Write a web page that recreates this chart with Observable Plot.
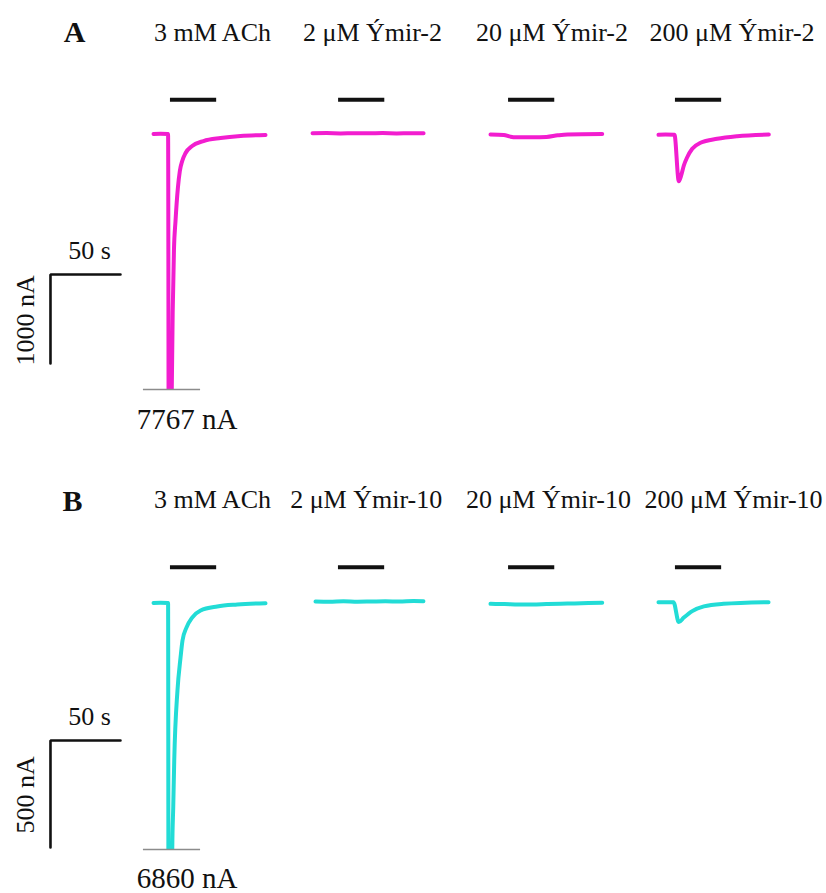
<!DOCTYPE html>
<html>
<head>
<meta charset="utf-8">
<script src="https://cdn.jsdelivr.net/npm/d3@7"></script>
<script src="https://cdn.jsdelivr.net/npm/@observablehq/plot@0.6"></script>
<style>
  html, body { margin: 0; padding: 0; background: #fff; }
  #chart { width: 826px; }
  #chart svg { display: block; }
</style>
</head>
<body>
<div id="chart"></div>
<script>
// ---------------- DATA ----------------
const conditionsA = ["3 mM ACh", "2 μM Ýmir-2", "20 μM Ýmir-2", "200 μM Ýmir-2"];
const conditionsB = ["3 mM ACh", "2 μM Ýmir-10", "20 μM Ýmir-10", "200 μM Ýmir-10"];
const peakLabelA = "7767 nA";
const peakLabelB = "6860 nA";

// Panel A traces: time since sweep start (s), current (nA)
const a1Time    = [0, 5, 10.4, 11.2, 12.0, 12.8, 13.7, 14.6, 15.7, 17.4, 18.8, 20.5, 22.9, 27.6, 35.7, 47.9, 62.1, 80];
const a1Current = [0, 2, 0, -7767, -5000, -3200, -2000, -1300, -978, -607, -416, -303, -213, -135, -79, -45, -22, -11];
const a2Time    = [0, 10, 20, 30, 40, 50, 60, 70, 79.3];
const a2Current = [8, 10, 7, 9, 8, 10, 7, 9, 8];
const a3Time    = [0, 9.5, 14.3, 17.9, 30, 40, 48, 55, 79.8];
const a3Current = [-5, -10, -30, -37, -37, -33, -15, -5, 0];
const a4Time    = [0, 5, 11.4, 14.5, 16.2, 18.1, 20.5, 24.1, 30, 41.9, 56.2, 78.8];
const a4Current = [-9, -7, -9, -530, -466, -354, -261, -166, -99, -54, -25, -6];

// Panel B traces
const b1Time    = [0, 5, 10.4, 11.2, 12.0, 12.8, 13.4, 14.1, 14.8, 17.1, 19.3, 20.7, 23.6, 27.6, 33.6, 45.5, 59.8, 80];
const b1Current = [0, 1, 0, -6860, -4500, -2500, -1150, -950, -736, -409, -255, -175, -114, -68, -35, -16, -7, -1];
const b2Time    = [0, 10, 20, 30, 40, 50, 60, 70, 77.1];
const b2Current = [7, 6, 8, 6, 7, 8, 7, 9, 8];
const b3Time    = [0, 10, 20, 30, 40, 50, 60, 70, 79.8];
const b3Current = [-4, -5, -7, -7, -5, -3, -2, 0, 1];
const b4Time    = [0, 5, 10.7, 14.5, 18.1, 24.1, 32.4, 46.4, 78.6];
const b4Current = [4, 3, 4, -89, -68, -38, -16, -4, 4];

// Drug application (s after sweep start) and duration (s)
const appStartA = [12.1, 18.6, 12.9, 12.1];
const appStartB = [12.1, 16.4, 12.9, 12.1];
const appDuration = 33;

// Scale bars
const scaleTime = 50;         // s
const scaleCurrentA = 1000;   // nA
const scaleCurrentB = 500;    // nA

// ---------------- LAYOUT ----------------
const W = 826;
const FONT = "'Liberation Serif', 'Times New Roman', serif";
const layoutA = {
  height: 446, marginBottom: 57,
  yDomain: [0, -1000], yRange: [133.5, 222.5],
  offsets: [109.3, 222.9, 350, 470],
  titleX: [151.4, 265.7, 393.9, 522.5], titleY: 1043,
  letter: "A", letterX: 52.9, letterY: 1031,
  barY: 384, clipY: -2871, clipX: [102.1, 142.9],
  peakX: 133.2, peakY: -3320,
  scaleX: 35.7, scaleY: -1579, scaleLabelX: 63.6, scaleLabelY: -1399,
  vLabelX: 23.6, vLabelY: -2095,
  color: "#f21dcf"
};
const layoutB = {
  height: 447, marginBottom: 44,
  yDomain: [0, -500], yRange: [156.5, 263.5],
  offsets: [109.3, 225, 350, 470],
  titleX: [151.4, 261.2, 391.4, 523.6], titleY: 442,
  letter: "B", letterX: 51.4, letterY: 432,
  barY: 167, clipY: -1152, clipX: [102.1, 142.9],
  peakX: 133.2, peakY: -1334,
  scaleX: 35.7, scaleY: -642.5, scaleLabelX: 63.6, scaleLabelY: -572,
  vLabelX: 23.6, vLabelY: -896,
  color: "#22dcd6"
};

function buildTraces(times, currents, offsets) {
  const rows = [];
  times.forEach((ts, i) => {
    ts.forEach((t, j) => rows.push({sweep: i, t: offsets[i] + t, v: currents[i][j]}));
  });
  return rows;
}

function panel(L, times, currents, titles, appStart, scaleCurrent, peakLabel) {
  const traces = buildTraces(times, currents, L.offsets);
  const bars = appStart.map((s, i) => ({x1: L.offsets[i] + s, x2: L.offsets[i] + s + appDuration, y: L.barY}));
  const titleRows = titles.map((t, i) => ({label: t, x: L.titleX[i], y: L.titleY}));
  const scaleBar = [
    {t: L.scaleX + scaleTime, v: L.scaleY},
    {t: L.scaleX, v: L.scaleY},
    {t: L.scaleX, v: L.scaleY - scaleCurrent}
  ];
  const txt = {fontFamily: FONT, fill: "#111", lineAnchor: "bottom"};
  return Plot.plot({
    width: W, height: L.height,
    marginLeft: 0, marginRight: 0, marginTop: 0, marginBottom: L.marginBottom,
    x: {domain: [0, 590], range: [0, W], axis: null},
    y: {domain: L.yDomain, range: L.yRange, axis: null},
    style: {background: "#fff"},
    marks: [
      Plot.line(traces, {x: "t", y: "v", z: "sweep", stroke: L.color, strokeWidth: 4,
        curve: "monotone-x", clip: true, strokeLinejoin: "round", strokeLinecap: "round"}),
      Plot.ruleY([{y: L.clipY, x1: L.clipX[0], x2: L.clipX[1]}], {y: "y", x1: "x1", x2: "x2", stroke: "#8c8c8c", strokeWidth: 1.5}),
      Plot.ruleY(bars, {y: "y", x1: "x1", x2: "x2", stroke: "#111", strokeWidth: 4}),
      Plot.line(scaleBar, {x: "t", y: "v", stroke: "#111", strokeWidth: 2.6, strokeLinejoin: "miter"}),
      Plot.text(titleRows, {x: "x", y: "y", text: "label", fontSize: 26, textAnchor: "middle", ...txt}),
      Plot.text([L.letter], {x: () => L.letterX, y: () => L.letterY, text: d => d, fontSize: 30, fontWeight: "bold", textAnchor: "middle", ...txt}),
      Plot.text([scaleTime + " s"], {x: () => L.scaleLabelX, y: () => L.scaleLabelY, text: d => d, fontSize: 26, textAnchor: "middle", ...txt}),
      Plot.text([scaleCurrent + " nA"], {x: () => L.vLabelX, y: () => L.vLabelY, text: d => d, fontSize: 26, rotate: -90, textAnchor: "middle", ...txt}),
      Plot.text([peakLabel], {x: () => L.peakX, y: () => L.peakY, text: d => d, fontSize: 29, textAnchor: "middle", ...txt})
    ]
  });
}

const chart = document.getElementById("chart");
chart.append(panel(layoutA, [a1Time, a2Time, a3Time, a4Time], [a1Current, a2Current, a3Current, a4Current],
  conditionsA, appStartA, scaleCurrentA, peakLabelA));
chart.append(panel(layoutB, [b1Time, b2Time, b3Time, b4Time], [b1Current, b2Current, b3Current, b4Current],
  conditionsB, appStartB, scaleCurrentB, peakLabelB));
</script>
</body>
</html>
